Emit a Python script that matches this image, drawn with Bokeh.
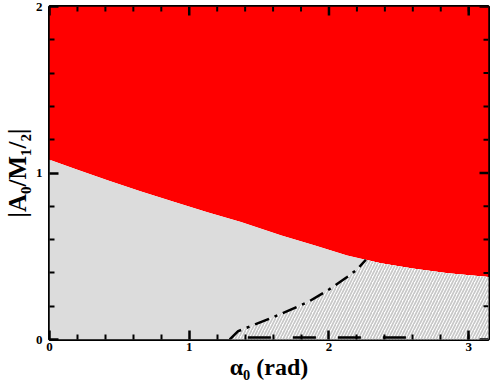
import numpy as np
from bokeh.plotting import figure
from bokeh.models import Range1d, LinearAxis, FixedTicker
from bokeh.embed import file_html
from bokeh.resources import INLINE

# ---- data ----
alpha_red = [0.0, 0.2, 0.42, 0.65, 0.9, 1.13, 1.37, 1.66, 1.9, 2.13, 2.37, 2.61, 2.85, np.pi]
red_boundary = [1.08, 1.02, 0.955, 0.89, 0.825, 0.765, 0.705, 0.625, 0.565, 0.505, 0.458, 0.425, 0.398, 0.375]

alpha_dd = [1.29, 1.35, 1.59, 1.85, 2.0, 2.13, 2.2, 2.264]
dd_line = [0.0, 0.05, 0.13, 0.225, 0.3, 0.375, 0.42, 0.479]

alpha_bottom = [1.42, 2.6]
bottom_line = [0.012, 0.012]

x_ticks = [0, 1, 2, 3]
x_minor = [0.2, 0.4, 0.6, 0.8, 1.2, 1.4, 1.6, 1.8, 2.2, 2.4, 2.6, 2.8, 3.0]
y_ticks = [0, 1, 2]
y_minor = [0.2, 0.4, 0.6, 0.8, 1.2, 1.4, 1.6, 1.8]

XMAX = np.pi
YMAX = 2.0

W, H = 491, 382
ML, MR, MT, MB = 48, 3, 6, 43
FW, FH = W - ML - MR, H - MT - MB
sx = FW / XMAX   # px per x unit
sy = FH / YMAX   # px per y unit

p = figure(width=W, height=H, x_range=Range1d(0, XMAX), y_range=Range1d(0, YMAX),
           output_backend="svg", toolbar_location=None,
           x_axis_type=None, y_axis_type=None,
           min_border_left=ML, min_border_right=MR, min_border_top=MT, min_border_bottom=MB)
p.grid.visible = False
p.outline_line_color = "black"
p.outline_line_width = 3
p.background_fill_color = "white"
p.border_fill_color = "white"

# regions
p.varea(x=alpha_red, y1=red_boundary, y2=[YMAX] * len(alpha_red), fill_color="#ff0000")
p.varea(x=alpha_red, y1=[0] * len(alpha_red), y2=red_boundary, fill_color="#dcdcdc")

hx = list(alpha_dd) + [a for a in alpha_red if a > alpha_dd[-1]] + [alpha_red[-1]]
hy = list(dd_line) + [b for a, b in zip(alpha_red, red_boundary) if a > alpha_dd[-1]] + [0.0]
p.patch(x=hx, y=hy, fill_color="white", line_color=None,
        hatch_pattern="/", hatch_color="#c8c8c8", hatch_scale=6, hatch_weight=1.7)

p.line(alpha_dd, dd_line, line_color="black", line_width=2.5, line_dash="15 6 3 6")
p.line(alpha_bottom, bottom_line, line_color="black", line_width=2.5, line_dash="23 22")

# ticks on top and right edges (inward)
MAJ, MIN = 9, 5
p.segment(x0=x_ticks, y0=[YMAX] * len(x_ticks), x1=x_ticks, y1=[YMAX - MAJ / sy] * len(x_ticks),
          line_color="black", line_width=2.5)
p.segment(x0=x_minor, y0=[YMAX] * len(x_minor), x1=x_minor, y1=[YMAX - MIN / sy] * len(x_minor),
          line_color="black", line_width=2)
p.segment(x0=[XMAX] * len(y_ticks), y0=y_ticks, x1=[XMAX - MAJ / sx] * len(y_ticks), y1=y_ticks,
          line_color="black", line_width=2.5)
p.segment(x0=[XMAX] * len(y_minor), y0=y_minor, x1=[XMAX - MIN / sx] * len(y_minor), y1=y_minor,
          line_color="black", line_width=2)

def make_axis(ticks, minor, label, label_size, tick_standoff, label_standoff):
    ax = LinearAxis(ticker=FixedTicker(ticks=ticks, minor_ticks=minor))
    ax.axis_line_color = None
    ax.major_tick_in = MAJ
    ax.major_tick_out = 0
    ax.major_tick_line_width = 2.5
    ax.minor_tick_in = MIN
    ax.minor_tick_out = 0
    ax.minor_tick_line_width = 2
    ax.major_label_text_font = "Liberation Serif"
    ax.major_label_text_font_style = "bold"
    ax.major_label_text_color = "black"
    ax.major_label_text_font_size = "13px"
    ax.major_label_standoff = tick_standoff
    ax.axis_label = label
    ax.axis_label_text_font = "Liberation Serif"
    ax.axis_label_text_font_style = "bold"
    ax.axis_label_text_font_size = label_size
    ax.axis_label_text_color = "black"
    ax.axis_label_standoff = label_standoff
    return ax

p.add_layout(make_axis(x_ticks, x_minor, "α₀ (rad)", "24px", 3, 0), "below")
p.add_layout(make_axis(y_ticks, y_minor, "|A₀/M₁/₂|", "25px", 7, 2), "left")

open("out.html", "w").write(file_html(p, INLINE))
